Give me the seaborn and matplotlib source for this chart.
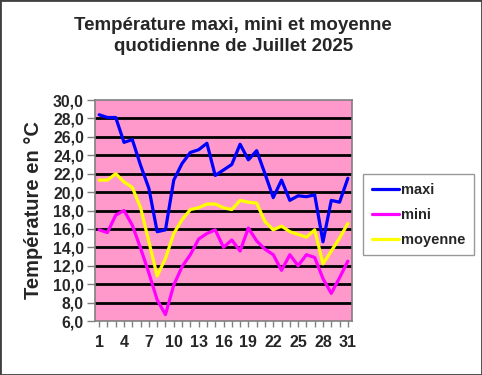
import numpy as np
import pandas as pd
import seaborn as sns
import matplotlib.pyplot as plt
from matplotlib.ticker import MultipleLocator, FuncFormatter

days = list(range(1, 32))
maxi = [28.4, 28.1, 28.1, 25.4, 25.7, 22.9, 20.4, 15.7, 15.9, 21.3,
        23.1, 24.3, 24.6, 25.3, 21.8, 22.4, 23.0, 25.2, 23.5, 24.5,
        22.0, 19.4, 21.3, 19.1, 19.6, 19.5, 19.7, 14.6, 19.1, 18.9, 21.5]
mini = [15.9, 15.6, 17.5, 18.0, 16.4, 13.9, 11.2, 8.3, 6.7, 9.9,
        11.9, 13.2, 14.9, 15.5, 15.9, 14.0, 14.8, 13.6, 16.1, 14.7,
        13.8, 13.2, 11.5, 13.2, 12.0, 13.2, 12.9, 10.6, 9.0, 10.7, 12.5]
moyenne = [21.3, 21.3, 22.0, 21.1, 20.5, 18.3, 14.6, 10.9, 12.8, 15.5,
           17.0, 18.1, 18.3, 18.7, 18.7, 18.3, 18.1, 19.1, 18.9, 18.8,
           16.8, 15.9, 16.3, 15.7, 15.4, 15.1, 15.9, 12.2, 13.6, 15.0, 16.6]

df = pd.DataFrame({'jour': days, 'maxi': maxi, 'mini': mini, 'moyenne': moyenne})
df_long = df.melt(id_vars='jour', var_name='serie', value_name='temp')

sns.set_style('white')
plt.rcParams['font.family'] = ['Liberation Sans', 'DejaVu Sans']
plt.rcParams['font.weight'] = 'bold'

fig = plt.figure(figsize=(4.82, 3.75), dpi=100)
ax = fig.add_axes([95 / 482, 1 - 321 / 375, (352 - 95) / 482, (321 - 100) / 375])

ax.set_facecolor('#FF99CC')
for y in np.arange(8, 30, 2):
    ax.axhline(y, color='black', lw=2, zorder=1)

sns.lineplot(data=df_long, x='jour', y='temp', hue='serie',
             palette={'maxi': '#0000FF', 'mini': '#FF00FF', 'moyenne': '#FFFF00'},
             linewidth=2.3, ax=ax, legend=False, zorder=3)

ax.set_xlim(0.5, 31.5)
ax.set_ylim(6, 30)
ax.yaxis.set_major_locator(MultipleLocator(2))
ax.yaxis.set_major_formatter(FuncFormatter(lambda v, p: f"{v:.1f}".replace('.', ',')))
ax.set_xticks(range(1, 32, 3))
ax.set_xticks(range(1, 32), minor=True)
ax.tick_params(axis='y', labelsize=11.3, length=6, width=1, color='#808080', direction='out', left=True, pad=2)
ax.tick_params(axis='x', which='major', labelsize=11.5, length=4, width=1, color='#808080', bottom=True, pad=6)
ax.tick_params(axis='x', which='minor', length=4, width=1, color='#808080', bottom=True)
for lab in ax.get_xticklabels() + ax.get_yticklabels():
    lab.set_fontweight('bold')

for s in ax.spines.values():
    s.set_color('#808080')
    s.set_linewidth(1.2)

ax.set_xlabel(None)
ax.set_ylabel('Température en °C', fontsize=14.5, fontweight='bold', labelpad=7)

fig.text(0.484, 0.955, 'Température maxi, mini et moyenne\nquotidienne de Juillet 2025',
         ha='center', va='top', fontsize=13.5, fontweight='bold', linespacing=1.3)

# legend box
handles = [plt.Line2D([], [], color=c, lw=2.3) for c in ['#0000FF', '#FF00FF', '#FFFF00']]
leg = fig.legend(handles, ['maxi', 'mini', 'moyenne'], loc='upper left',
                 bbox_to_anchor=(363 / 482, 1 - 174 / 375), frameon=True, fancybox=False,
                 prop={'size': 10.5, 'weight': 'bold'}, handlelength=1.9, handletextpad=0.1,
                 labelspacing=0.75, borderpad=0.6, borderaxespad=0)
leg.get_frame().set_edgecolor('#808080')
leg.get_frame().set_linewidth(1)

fig.patches.append(plt.Rectangle((0, 0), 1, 1, transform=fig.transFigure, fill=False,
                                 edgecolor='#404040', lw=2))

plt.savefig('out.png', dpi=100)
plt.close()
